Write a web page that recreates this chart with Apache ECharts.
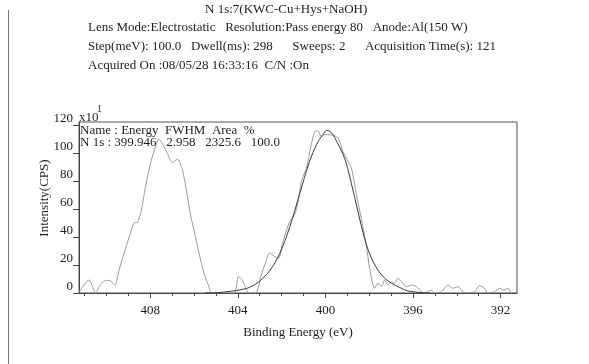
<!DOCTYPE html>
<html>
<head>
<meta charset="utf-8">
<script src="https://cdn.jsdelivr.net/npm/echarts@6/dist/echarts.min.js"></script>
<style>
html,body{margin:0;padding:0;background:#fff;}
#c{width:589px;height:364px;}
</style>
</head>
<body>
<div id="c"></div>
<script>
// Raw spectrum (binding energy, intensity x10 CPS)
var rawE = [411.25, 410.79, 410.49, 410.31, 410.12, 409.95, 409.80, 409.61, 409.42, 409.12,
  408.89, 408.74, 408.58, 408.43, 408.21, 407.98, 407.75, 407.60, 407.37, 407.20,
  406.99, 406.76, 406.53, 406.30, 406.15, 406.00, 405.77, 405.54, 405.32, 405.19,
  404.17, 403.97, 403.78, 403.49, 403.18, 402.95, 402.77, 402.54, 402.32, 402.13,
  401.94, 401.63, 401.40, 401.25, 401.10, 400.87, 400.64, 400.49, 400.34, 400.18,
  400.03, 399.73, 399.42, 399.20, 398.97, 398.81, 398.58, 398.36, 398.13, 397.98,
  397.75, 397.60, 397.44, 397.29, 397.14, 396.99, 396.84, 396.68, 396.52, 396.30,
  396.07, 395.84, 395.62, 395.47, 395.16, 395.01, 394.70, 394.40, 394.17, 393.95,
  393.72, 393.49, 393.18, 392.95, 392.73, 392.58, 392.27, 392.04, 391.89, 391.66,
  391.51, 391.36];
var rawV = [0.5, 9.3, 0, 5, 8.5, 9, 8.6, 5.7, 16.4, 32,
  43, 50, 50.5, 57, 76, 93, 104.5, 109.7, 104.5, 99,
  93, 95.5, 88, 69, 55, 45, 28.5, 14, 4.5, 0,
  0, 11.7, 9, 0, 0, 11.7, 20, 28.5, 26, 25,
  36.6, 51, 56, 65, 79.5, 89, 106, 115, 115.7, 111.6,
  113, 112.9, 110.5, 101, 94, 89, 70, 53, 34, 17.6,
  3.4, 6.9, 4.5, 9.3, 5.7, 8, 6.9, 10.5, 8, 4.5,
  5.7, 4.5, 1, 0, 2, 0, 1, 5.7, 3.4, 4.5,
  1, 0, 1, 5.2, 3.4, 0, 1, 3.4, 2, 3.4,
  0, 0.5];
// Fitted N 1s component
var fitE = [405.47, 404.86, 404.46, 404.10, 403.78, 403.46, 403.00, 402.54, 402.09, 401.63,
  401.17, 400.72, 400.40, 400.12, 399.94, 399.76, 399.58, 399.12, 398.81, 398.51,
  398.21, 397.90, 397.44, 396.99, 396.61, 396.24, 395.62, 395.24];
var fitV = [0, 0.3, 1, 1.7, 2.6, 4, 8.5, 16, 28, 47,
  71, 94, 106, 113, 116, 115, 111, 96, 78, 58,
  39, 25, 13, 7, 4, 1.5, 0.3, 0];
// Axis ticks
var xLabels = [408, 404, 400, 396, 392];
var xMinorTicks = [411, 410, 409, 408, 407, 406, 405, 404, 403, 402, 401, 400, 399, 398, 397, 396, 395, 394, 393, 392];
var yLabels = [0, 20, 40, 60, 80, 100, 120];
var xRange = [391.25, 411.25];
var yRange = [0, 122];

var headerLines = [
  'Lens Mode:Electrostatic   Resolution:Pass energy 80   Anode:Al(150 W)',
  'Step(meV): 100.0   Dwell(ms): 298      Sweeps: 2      Acquisition Time(s): 121',
  'Acquired On :08/05/28 16:33:16  C/N :On'
];
var titleText = 'N 1s:7(KWC-Cu+Hys+NaOH)';
var fitLines = ['Name : Energy  FWHM  Area  %', 'N 1s : 399.946   2.958   2325.6   100.0'];

function pairs(a, b) { return a.map(function (v, i) { return [v, b[i]]; }); }

var FONT = '"Liberation Serif", "Times New Roman", serif';
var TXT = '#1e1e1e';
var chart = echarts.init(document.getElementById('c'), null, { renderer: 'canvas' });

var option = {
  animation: false,
  backgroundColor: '#fff',
  grid: { left: 79, right: 72, top: 122, bottom: 71, show: true, borderColor: '#555', borderWidth: 1, backgroundColor: 'transparent' },
  xAxis: [{
    type: 'value', inverse: true, min: xRange[0], max: xRange[1],
    axisLine: { show: true, lineStyle: { color: '#444', width: 1 } },
    axisTick: { show: true, length: 3, customValues: xMinorTicks, lineStyle: { color: '#444' } },
    axisLabel: { customValues: xLabels, margin: 11, color: TXT, fontFamily: FONT, fontSize: 13 },
    splitLine: { show: false },
    name: 'Binding Energy (eV)', nameLocation: 'middle', nameGap: 33,
    nameTextStyle: { color: TXT, fontFamily: FONT, fontSize: 13 }
  }, {
    type: 'value', inverse: true, min: xRange[0], max: xRange[1], position: 'bottom',
    axisLine: { show: false },
    axisTick: { show: true, length: 5, customValues: xLabels, lineStyle: { color: '#444' } },
    axisLabel: { show: false }, splitLine: { show: false }
  }],
  yAxis: [{
    type: 'value', min: yRange[0], max: yRange[1],
    axisLine: { show: true, lineStyle: { color: '#444', width: 1 } },
    axisTick: { show: true, length: 6, customValues: yLabels, lineStyle: { color: '#444' } },
    axisLabel: { customValues: yLabels, margin: 6, color: TXT, fontFamily: FONT, fontSize: 13, verticalAlign: 'bottom', lineHeight: 13 },
    splitLine: { show: false }
  }],
  series: [{
    type: 'line', data: pairs(rawE, rawV), showSymbol: false, smooth: 0.25,
    lineStyle: { color: '#9a9a9a', width: 1 }, z: 2
  }, {
    type: 'line', data: pairs(fitE, fitV), showSymbol: false, smooth: 0.35,
    lineStyle: { color: '#3a3a3a', width: 1 }, z: 3
  }],
  graphic: [
    { type: 'line', shape: { x1: 8.5, y1: 10, x2: 8.5, y2: 364 }, style: { stroke: '#777', lineWidth: 1 } },
    { type: 'text', x: 205, y: 3, style: { text: titleText, font: '13px ' + FONT, fill: TXT } },
    { type: 'text', x: 88, y: 21, style: { text: headerLines[0], font: '13px ' + FONT, fill: TXT } },
    { type: 'text', x: 88, y: 40, style: { text: headerLines[1], font: '13px ' + FONT, fill: TXT } },
    { type: 'text', x: 88, y: 59, style: { text: headerLines[2], font: '13px ' + FONT, fill: TXT } },
    { type: 'text', x: 79, y: 111, style: { text: 'x10', font: '13px ' + FONT, fill: TXT } },
    { type: 'text', x: 97, y: 104, style: { text: '1', font: '10px ' + FONT, fill: TXT } },
    { type: 'text', x: 80, y: 124, style: { text: fitLines[0], font: '13px ' + FONT, fill: TXT } },
    { type: 'text', x: 80, y: 136, style: { text: fitLines[1], font: '13px ' + FONT, fill: TXT } },
    { type: 'text', x: 45, y: 198, rotation: Math.PI / 2, style: { text: 'Intensity(CPS)', font: '13px ' + FONT, fill: TXT, align: 'center', verticalAlign: 'middle' } }
  ]
};
chart.setOption(option);
</script>
</body>
</html>
